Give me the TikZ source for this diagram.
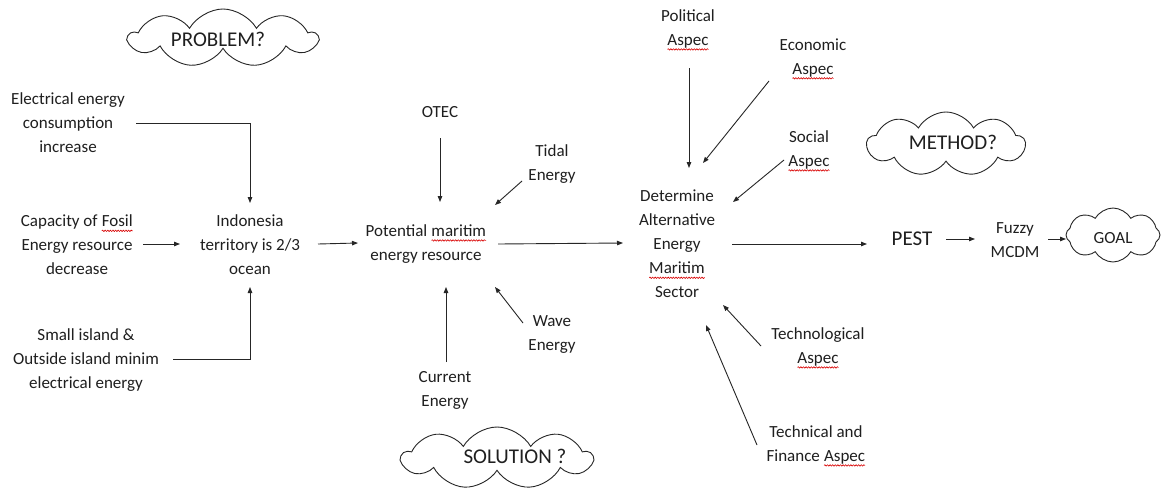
\documentclass[tikz,border=0pt]{standalone}
\usepackage{fontspec}
\setmainfont{Carlito}
\usetikzlibrary{shapes.symbols,arrows.meta,decorations.pathmorphing}
\newcommand\spl[1]{\begin{tikzpicture}[x=1cm,y=1cm,baseline=(w.base)]\node[inner sep=0pt,outer sep=0pt,anchor=base](w){#1};\draw[red!85!black,line width=0.6pt,decorate,decoration={snake,amplitude=0.7pt,segment length=2.6pt}]([yshift=-4pt]w.base west)--([yshift=-4pt]w.base east);\end{tikzpicture}}
\tikzset{
  txt/.style={align=center, font=\fontsize{17}{24}\selectfont, inner sep=2pt, text=black!88},
  big/.style={font=\fontsize{21}{25}\selectfont},
  arr/.style={-{Triangle[length=6pt,width=4.5pt]}, line width=0.9pt, black!85},
  cloudbox/.style={cloud, draw=black!85, cloud puffs=9, cloud puff arc=120, cloud ignores aspect, inner sep=0pt, line width=0.9pt}
}
\begin{document}
\begin{tikzpicture}[x=1pt,y=-1pt]
\useasboundingbox[fill=white] (0,0) rectangle (1164,490);
% clouds
\node[cloudbox, minimum width=188pt, minimum height=58pt] (probc) at (223,38) {};
\node[txt,big] (prob) at (218,39) {PROBLEM?};
\node[cloudbox, minimum width=158pt, minimum height=64pt] (methc) at (946,144) {};
\node[txt,big] (meth) at (953,142) {METHOD?};
\node[cloudbox, minimum width=190pt, minimum height=62pt] (solc) at (497,458) {};
\node[txt,big] (sol) at (515,456) {SOLUTION ?};
\node[cloudbox, cloud puffs=8, minimum width=94pt, minimum height=54pt] (goalc) at (1113,235) {};
\node[txt] (goal) at (1113,238) {GOAL};
% text nodes
\node[txt] (elec) at (68,123) {Electrical energy\\consumption\\increase};
\node[txt] (cap) at (77,245) {Capacity of \spl{Fosil}\\Energy resource\\decrease};
\node[txt] (small) at (86,360) {Small island \&\\Outside island minim\\electrical energy};
\node[txt] (indo) at (250,245) {Indonesia\\territory is 2/3\\ocean};
\node[txt] (pot) at (426,244) {Potential \spl{maritim}\\energy resource};
\node[txt] (otec) at (440,112) {OTEC};
\node[txt] (tidal) at (552,164) {Tidal\\Energy};
\node[txt] (wave) at (552,335) {Wave\\Energy};
\node[txt] (curr) at (445,390) {Current\\Energy};
\node[txt] (det) at (677,244) {Determine\\Alternative\\Energy\\\spl{Maritim}\\Sector};
\node[txt] (pol) at (688,30) {Political\\\spl{Aspec}};
\node[txt] (eco) at (813,59) {Economic\\\spl{Aspec}};
\node[txt] (soc) at (809,151) {Social\\\spl{Aspec}};
\node[txt] (tech) at (818,348) {Technological\\\spl{Aspec}};
\node[txt] (fin) at (816,446) {Technical and\\Finance \spl{Aspec}};
\node[txt,big] (pest) at (912,239) {PEST};
\node[txt] (fuzzy) at (1015,240) {Fuzzy\\MCDM};
% connectors
\draw[arr] ([shift={(68,0)}]elec.center) -| ([shift={(0,-42)}]indo.center);
\draw[arr] ([shift={(66,-1)}]cap.center) -- ([shift={(-70,-1)}]indo.center);
\draw[arr] ([shift={(87,-1)}]small.center) -| ([shift={(0,42)}]indo.center);
\draw[arr] ([shift={(68,-1)}]indo.center) -- ([shift={(-68,-1)}]pot.center);
\draw[arr] ([shift={(0,26)}]otec.center) -- ([shift={(14,-42)}]pot.center);
\draw[arr] ([shift={(-30,17)}]tidal.center) -- ([shift={(69,-39)}]pot.center);
\draw[arr] ([shift={(-29,-12)}]wave.center) -- ([shift={(69,43)}]pot.center);
\draw[arr] ([shift={(1,-28)}]curr.center) -- ([shift={(20,43)}]pot.center);
\draw[arr] ([shift={(72,0)}]pot.center) -- ([shift={(-54,-1)}]det.center);
\draw[arr] ([shift={(1,38)}]pol.center) -- ([shift={(12,-76)}]det.center);
\draw[arr] ([shift={(-44,22)}]eco.center) -- ([shift={(26,-81)}]det.center);
\draw[arr] ([shift={(-25,9)}]soc.center) -- ([shift={(56,-42)}]det.center);
\draw[arr] ([shift={(-57,-2)}]tech.center) -- ([shift={(46,61)}]det.center);
\draw[arr] ([shift={(-59,-1)}]fin.center) -- ([shift={(29,81)}]det.center);
\draw[arr] ([shift={(55,0)}]det.center) -- ([shift={(-45,5)}]pest.center);
\draw[arr] ([shift={(34,0)}]pest.center) -- ([shift={(-40,-1)}]fuzzy.center);
\draw[arr] ([shift={(33,-1)}]fuzzy.center) -- ([shift={(-47,4)}]goalc.center);
\end{tikzpicture}
\end{document}
